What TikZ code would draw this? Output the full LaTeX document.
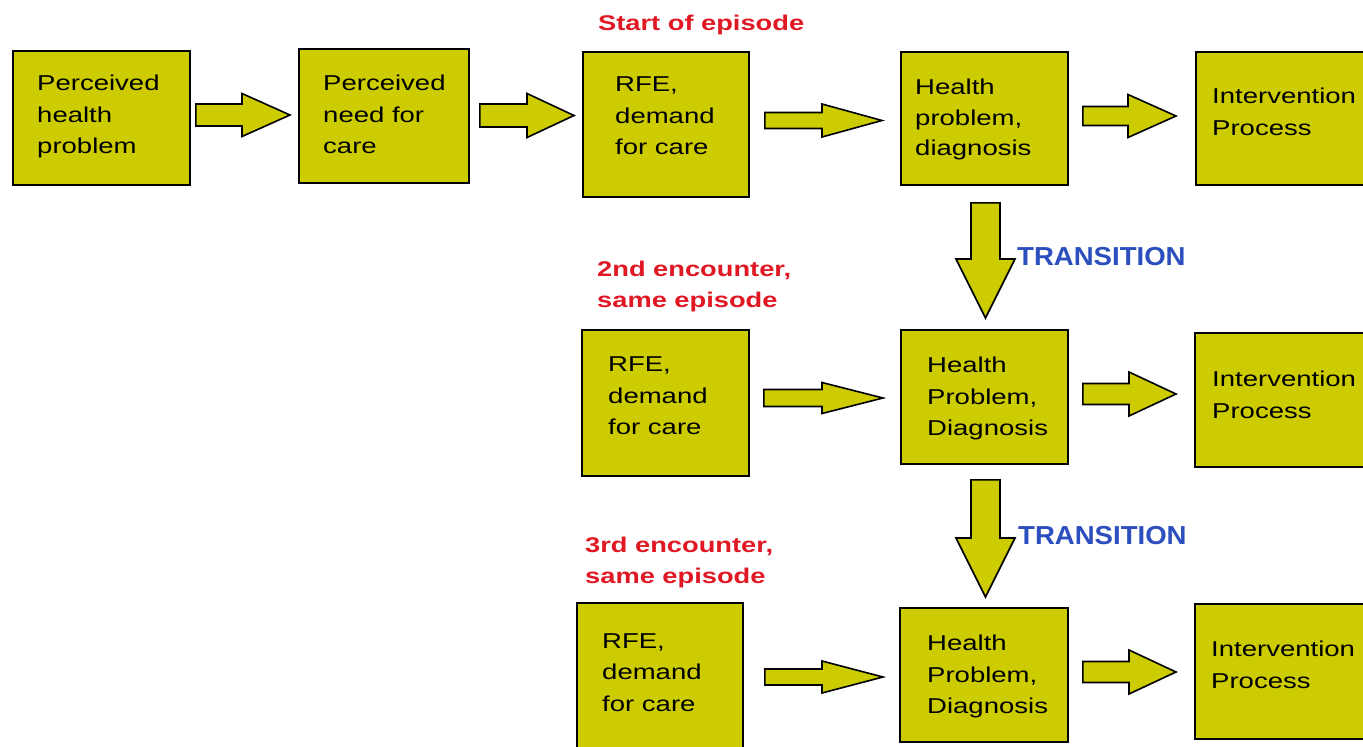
\documentclass[tikz,border=0pt]{standalone}
\usepackage{fontspec}
\setmainfont{Liberation Sans}
\newfontfamily\bodyfont[FakeStretch=1.28]{Liberation Sans}
\newfontfamily\tranfont[FakeStretch=1.06]{Liberation Sans}
\usetikzlibrary{calc}
\definecolor{boxfill}{RGB}{204,204,0}
\definecolor{labred}{RGB}{224,24,36}
\definecolor{tranblue}{RGB}{44,78,190}
\tikzset{
 box/.style={draw=black, line width=1.8pt, fill=boxfill, anchor=north west, inner sep=0pt},
 btxt/.style={anchor=north west, inner sep=0pt, align=left, font=\bodyfont\fontsize{21.5}{31.5}\selectfont, text=black},
 redlab/.style={anchor=north west, inner sep=0pt, align=left, font=\bodyfont\bfseries\fontsize{21.3}{31}\selectfont, text=labred},
 tranlab/.style={anchor=north west, inner sep=0pt, font=\tranfont\bfseries\fontsize{26}{30}\selectfont, text=tranblue},
 barrow/.style={draw=black, line width=1.6pt, fill=boxfill, line join=miter},
}
% box: name, x, y, width, height
\newcommand\pbox[5]{\node[box, minimum width=#4pt, minimum height=#5pt] (#1) at (#2,#3) {};}
% horizontal block arrow: from, to, gap1, gap2, yc, half shaft, half head, head length
\newcommand\harrow[8]{%
 \draw[barrow] let \p1=(#1.east), \p2=(#2.west) in
  ({\x1+#3pt},{#6pt-#5pt}) -- ({\x2-#4pt-#8pt},{#6pt-#5pt}) -- ({\x2-#4pt-#8pt},{#7pt-#5pt})
  -- ({\x2-#4pt},{-#5pt}) -- ({\x2-#4pt-#8pt},{-#7pt-#5pt}) -- ({\x2-#4pt-#8pt},{-#6pt-#5pt})
  -- ({\x1+#3pt},{-#6pt-#5pt}) -- cycle;}
% vertical block arrow: from, to, gap1, gap2, xc, half shaft, half head, head length
\newcommand\darrow[8]{%
 \draw[barrow] let \p1=(#1.south), \p2=(#2.north) in
  ({#5pt-#6pt},{\y1-#3pt}) -- ({#5pt-#6pt},{\y2+#4pt+#8pt}) -- ({#5pt-#7pt},{\y2+#4pt+#8pt})
  -- ({#5pt},{\y2+#4pt}) -- ({#5pt+#7pt},{\y2+#4pt+#8pt}) -- ({#5pt+#6pt},{\y2+#4pt+#8pt})
  -- ({#5pt+#6pt},{\y1-#3pt}) -- cycle;}
\begin{document}
\begin{tikzpicture}[x=1pt,y=-1pt]
\useasboundingbox (0,0) rectangle (1363,747);
\fill[white] (0,0) rectangle (1363,747);
\clip (0,0) rectangle (1363,747);
% row 1
\pbox{b1}{12}{50}{177}{134}
\pbox{b2}{298}{48}{170}{134}
\pbox{b3}{582}{51}{166}{145}
\pbox{b4}{900}{51}{167}{133}
\pbox{b5}{1195}{51}{180}{133}
% row 2
\pbox{r2}{581}{329}{167}{146}
\pbox{h2}{900}{329}{167}{134}
\pbox{i2}{1194}{332}{180}{134}
% row 3
\pbox{r3}{576}{602}{166}{160}
\pbox{h3}{899}{607}{168}{134}
\pbox{i3}{1194}{603}{180}{135}
% texts
\node[btxt] (t1) at (37,75) {Perceived\\health\\problem};
\node[btxt] (t2) at (323,75) {Perceived\\need for\\care};
\node[btxt] (t3) at (615,77) {RFE,\\demand\\for care};
\node[btxt, font=\bodyfont\fontsize{21.5}{30.5}\selectfont] (t4) at (915,79) {Health\\problem,\\diagnosis};
\node[btxt] (t5) at (1212,88) {Intervention\\Process};
\node[btxt] (t6) at (608,357) {RFE,\\demand\\for care};
\node[btxt] (t7) at (927,357) {Health\\Problem,\\Diagnosis};
\node[btxt] (t8) at (1212,371) {Intervention\\Process};
\node[btxt] (t9) at (602,633) {RFE,\\demand\\for care};
\node[btxt] (t10) at (927,635) {Health\\Problem,\\Diagnosis};
\node[btxt] (t11) at (1211,641) {Intervention\\Process};
% labels
\node[redlab] (l1) at (598,15) {Start of episode};
\node[redlab] (l2) at (597,261) {2nd encounter,\\same episode};
\node[redlab] (l3) at (585,537) {3rd encounter,\\same episode};
\node[tranlab] (tr1) at (1017,247) {TRANSITION};
\node[tranlab] (tr2) at (1018,526) {TRANSITION};
% arrows
\harrow{b1}{b2}{5}{8}{115}{11}{21.5}{48}
\harrow{b2}{b3}{10}{8}{115.5}{11.5}{22}{47}
\harrow{b3}{b4}{15}{18}{120.5}{8}{16.5}{60}
\harrow{b4}{b5}{14}{19}{116}{9.5}{21.5}{48}
\harrow{r2}{h2}{14}{17}{398}{8.5}{15.5}{61}
\harrow{h2}{i2}{14}{18}{394}{10.5}{22}{47}
\harrow{r3}{h3}{21}{16}{677}{8}{16}{61}
\harrow{h3}{i3}{14}{18}{672}{10.5}{22}{47}
\darrow{b4}{h2}{17}{11}{985.5}{14.5}{29.5}{59}
\darrow{h2}{h3}{15}{10}{985.5}{14.5}{29.5}{59}
\end{tikzpicture}
\end{document}
